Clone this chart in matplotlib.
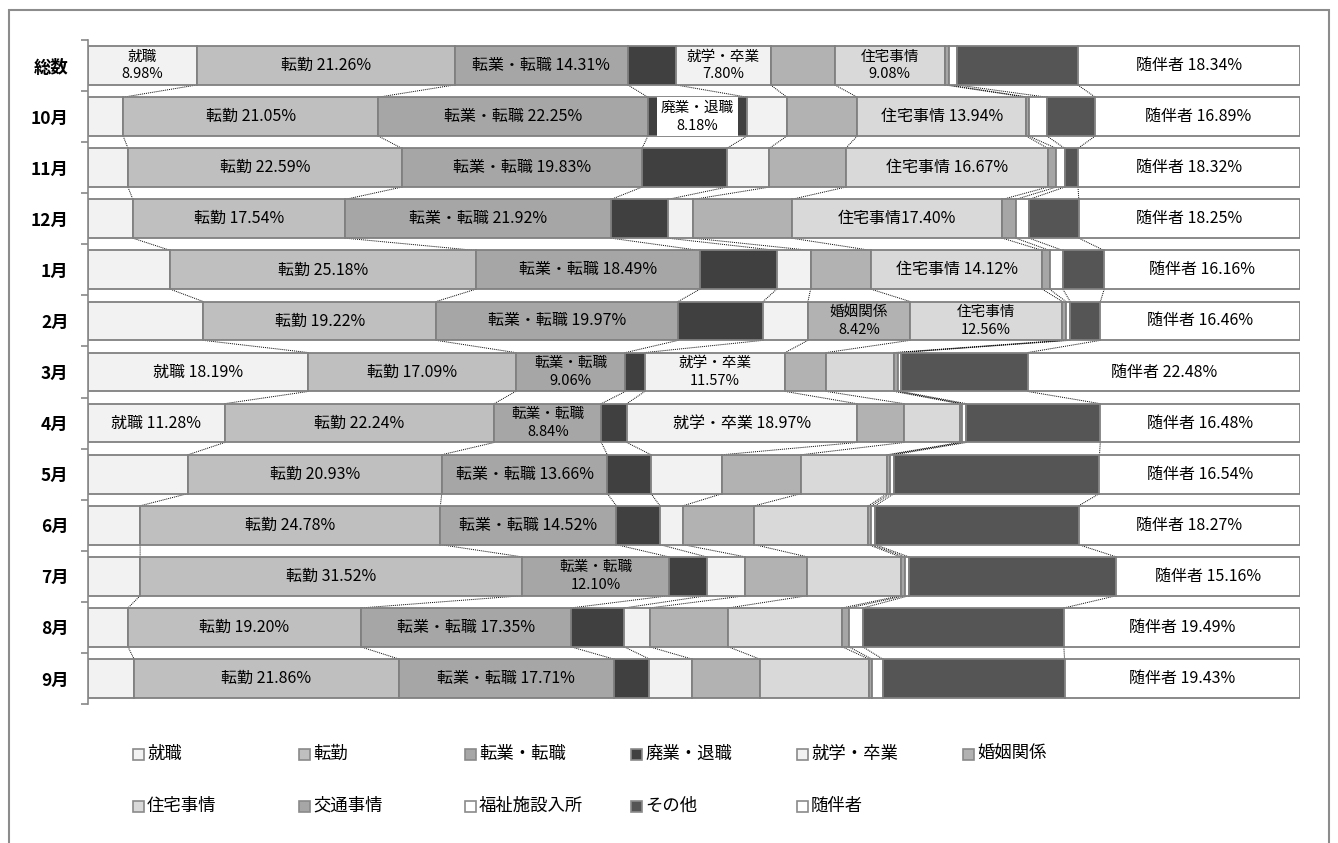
import matplotlib
matplotlib.use('Agg')
import matplotlib.pyplot as plt
from matplotlib.patches import Rectangle
import numpy as np

plt.rcParams['font.family'] = ['Noto Sans CJK JP', 'DejaVu Sans']

# ---------------- data ----------------
rows = ['総数', '10月', '11月', '12月', '1月', '2月', '3月', '4月', '5月', '6月', '7月', '8月', '9月']
categories = ['就職', '転勤', '転業・転職', '廃業・退職', '就学・卒業', '婚姻関係',
              '住宅事情', '交通事情', '福祉施設入所', 'その他', '随伴者']

shushoku = [8.98, 2.9, 3.3, 3.7, 6.8, 9.5, 18.19, 11.28, 8.25, 4.3, 4.3, 3.3, 3.8]
tenkin   = [21.26, 21.05, 22.59, 17.54, 25.18, 19.22, 17.09, 22.24, 20.93, 24.78, 31.52, 19.20, 21.86]
tengyo   = [14.31, 22.25, 19.83, 21.92, 18.49, 19.97, 9.06, 8.84, 13.66, 14.52, 12.10, 17.35, 17.71]
haigyo   = [3.97, 8.18, 7.0, 4.7, 6.35, 7.0, 1.6, 2.1, 3.6, 3.6, 3.12, 4.4, 2.95]
shugaku  = [7.80, 3.3, 3.5, 2.1, 2.8, 3.7, 11.57, 18.97, 5.9, 1.9, 3.2, 2.1, 3.5]
konin    = [5.3, 5.8, 6.3, 8.1, 5.0, 8.42, 3.4, 3.9, 6.5, 5.9, 5.1, 6.5, 5.6]
jutaku   = [9.08, 13.94, 16.67, 17.40, 14.12, 12.56, 5.6, 4.6, 7.1, 9.4, 7.7, 9.4, 9.0]
kotsu    = [0.3, 0.2, 0.7, 1.1, 0.6, 0.3, 0.3, 0.2, 0.25, 0.25, 0.35, 0.55, 0.25]
fukushi  = [0.7, 1.5, 0.7, 1.1, 1.1, 0.35, 0.25, 0.35, 0.3, 0.3, 0.35, 1.15, 0.9]
sonota   = [9.96, 4.0, 1.1, 4.1, 3.4, 2.5, 10.45, 11.05, 16.95, 16.8, 17.1, 16.6, 15.0]
zuihan   = [18.34, 16.89, 18.32, 18.25, 16.16, 16.46, 22.48, 16.48, 16.54, 18.27, 15.16, 19.49, 19.43]

series = [shushoku, tenkin, tengyo, haigyo, shugaku, konin, jutaku, kotsu, fukushi, sonota, zuihan]
colors = ['#f2f2f2', '#bfbfbf', '#a6a6a6', '#404040', '#f2f2f2', '#b2b2b2',
          '#d9d9d9', '#a6a6a6', '#ffffff', '#555555', '#ffffff']

# data labels: (row, category, style) ; style 'one' = single line, 'two' = two lines, 'tight' = no space
label_specs = [
    (0, 0, 'two'), (0, 1, 'one'), (0, 2, 'one'), (0, 4, 'two'), (0, 6, 'two'), (0, 10, 'one'),
    (1, 1, 'one'), (1, 2, 'one'), (1, 3, 'box'), (1, 6, 'one'), (1, 10, 'one'),
    (2, 1, 'one'), (2, 2, 'one'), (2, 6, 'one'), (2, 10, 'one'),
    (3, 1, 'one'), (3, 2, 'one'), (3, 6, 'tight'), (3, 10, 'one'),
    (4, 1, 'one'), (4, 2, 'one'), (4, 6, 'one'), (4, 10, 'one'),
    (5, 1, 'one'), (5, 2, 'one'), (5, 5, 'two'), (5, 6, 'two'), (5, 10, 'one'),
    (6, 0, 'one'), (6, 1, 'one'), (6, 2, 'two'), (6, 4, 'two'), (6, 10, 'one'),
    (7, 0, 'one'), (7, 1, 'one'), (7, 2, 'two'), (7, 4, 'one'), (7, 10, 'one'),
    (8, 1, 'one'), (8, 2, 'one'), (8, 10, 'one'),
    (9, 1, 'one'), (9, 2, 'one'), (9, 10, 'one'),
    (10, 1, 'one'), (10, 2, 'two'), (10, 10, 'one'),
    (11, 1, 'one'), (11, 2, 'one'), (11, 10, 'one'),
    (12, 1, 'one'), (12, 2, 'one'), (12, 10, 'one'),
]

# ---------------- figure ----------------
W, H = 1338, 843
fig = plt.figure(figsize=(W / 100, H / 100), dpi=100)
fig.patch.set_facecolor('white')

ax_l, ax_r, ax_t, ax_b = 88, 1300, 40, 704
ax = fig.add_axes([ax_l / W, 1 - ax_b / H, (ax_r - ax_l) / W, (ax_b - ax_t) / H])

vals = np.array(series, dtype=float).T          # rows x categories
totals = vals.sum(axis=1, keepdims=True)
pct = vals / totals * 100.0

n = len(rows)
ypos = np.arange(n)
h = 0.76
left = np.zeros(n)
cum = []
starts = []
for j, cat in enumerate(categories):
    ax.barh(ypos, pct[:, j], left=left, height=h, color=colors[j],
            edgecolor='#808080', linewidth=1.3, zorder=2)
    starts.append(left.copy())
    left = left + pct[:, j]
    cum.append(left.copy())

# series lines
for j in range(len(categories)):
    for i in range(n - 1):
        ax.plot([cum[j][i], cum[j][i + 1]], [i + h / 2, i + 1 - h / 2],
                color='black', lw=0.7, ls=(0, (1, 1)), zorder=1)

# data labels
for (r, c, style) in label_specs:
    v = vals[r, c]
    name = categories[c]
    xc = starts[c][r] + pct[r, c] / 2
    if style == 'one':
        ax.text(xc, r, f'{name} {v:.2f}%', ha='center', va='center', fontsize=11.5, zorder=4)
    elif style == 'tight':
        ax.text(xc, r, f'{name}{v:.2f}%', ha='center', va='center', fontsize=11.5, zorder=4)
    elif style == 'two':
        ax.text(xc, r, f'{name}\n{v:.2f}%', ha='center', va='center', fontsize=10.5,
                linespacing=1.35, zorder=4)
    elif style == 'box':
        ax.text(xc, r, f'{name}\n{v:.2f}%', ha='center', va='center', fontsize=10.5,
                linespacing=1.35, zorder=4,
                bbox=dict(boxstyle='square,pad=0.25', facecolor='white', edgecolor='none'))

ax.set_xlim(0, 100)
ax.set_ylim(n - 0.5, -0.5)
for s in ['top', 'right', 'bottom']:
    ax.spines[s].set_visible(False)
ax.spines['left'].set_color('#888888')
ax.spines['left'].set_linewidth(1.2)
ax.set_xticks([])
ax.set_yticks(ypos)
ax.set_yticklabels(rows, fontsize=12.5, fontweight='bold')
ax.tick_params(axis='y', which='major', length=0, pad=14)
ax.set_yticks(np.arange(-0.5, n, 1.0), minor=True)
ax.tick_params(axis='y', which='minor', length=5, width=1.2, color='#888888', direction='out')
ax.set_facecolor('white')

# legend (manual, row-major, 6 columns)
lx0, ldx = 133, 166
ly0, ldy = 754, 52
msz = 11
for k, cat in enumerate(categories):
    col, rr = k % 6, k // 6
    x = lx0 + col * ldx
    yc = ly0 + rr * ldy
    fig.add_artist(Rectangle((x / W, 1 - (yc + msz / 2) / H), msz / W, msz / H,
                             transform=fig.transFigure, facecolor=colors[k],
                             edgecolor='#8a8a8a', linewidth=1.2))
    fig.text((x + msz + 3) / W, 1 - yc / H, cat, ha='left', va='center', fontsize=12.5)

# outer frame
fig.add_artist(Rectangle((9 / W, -0.05), (1329 - 9) / W, 1.05 - 10 / H,
                         transform=fig.transFigure, fill=False,
                         edgecolor='#8c8c8c', linewidth=1.5))

fig.savefig('out.png', dpi=100, facecolor='white')
